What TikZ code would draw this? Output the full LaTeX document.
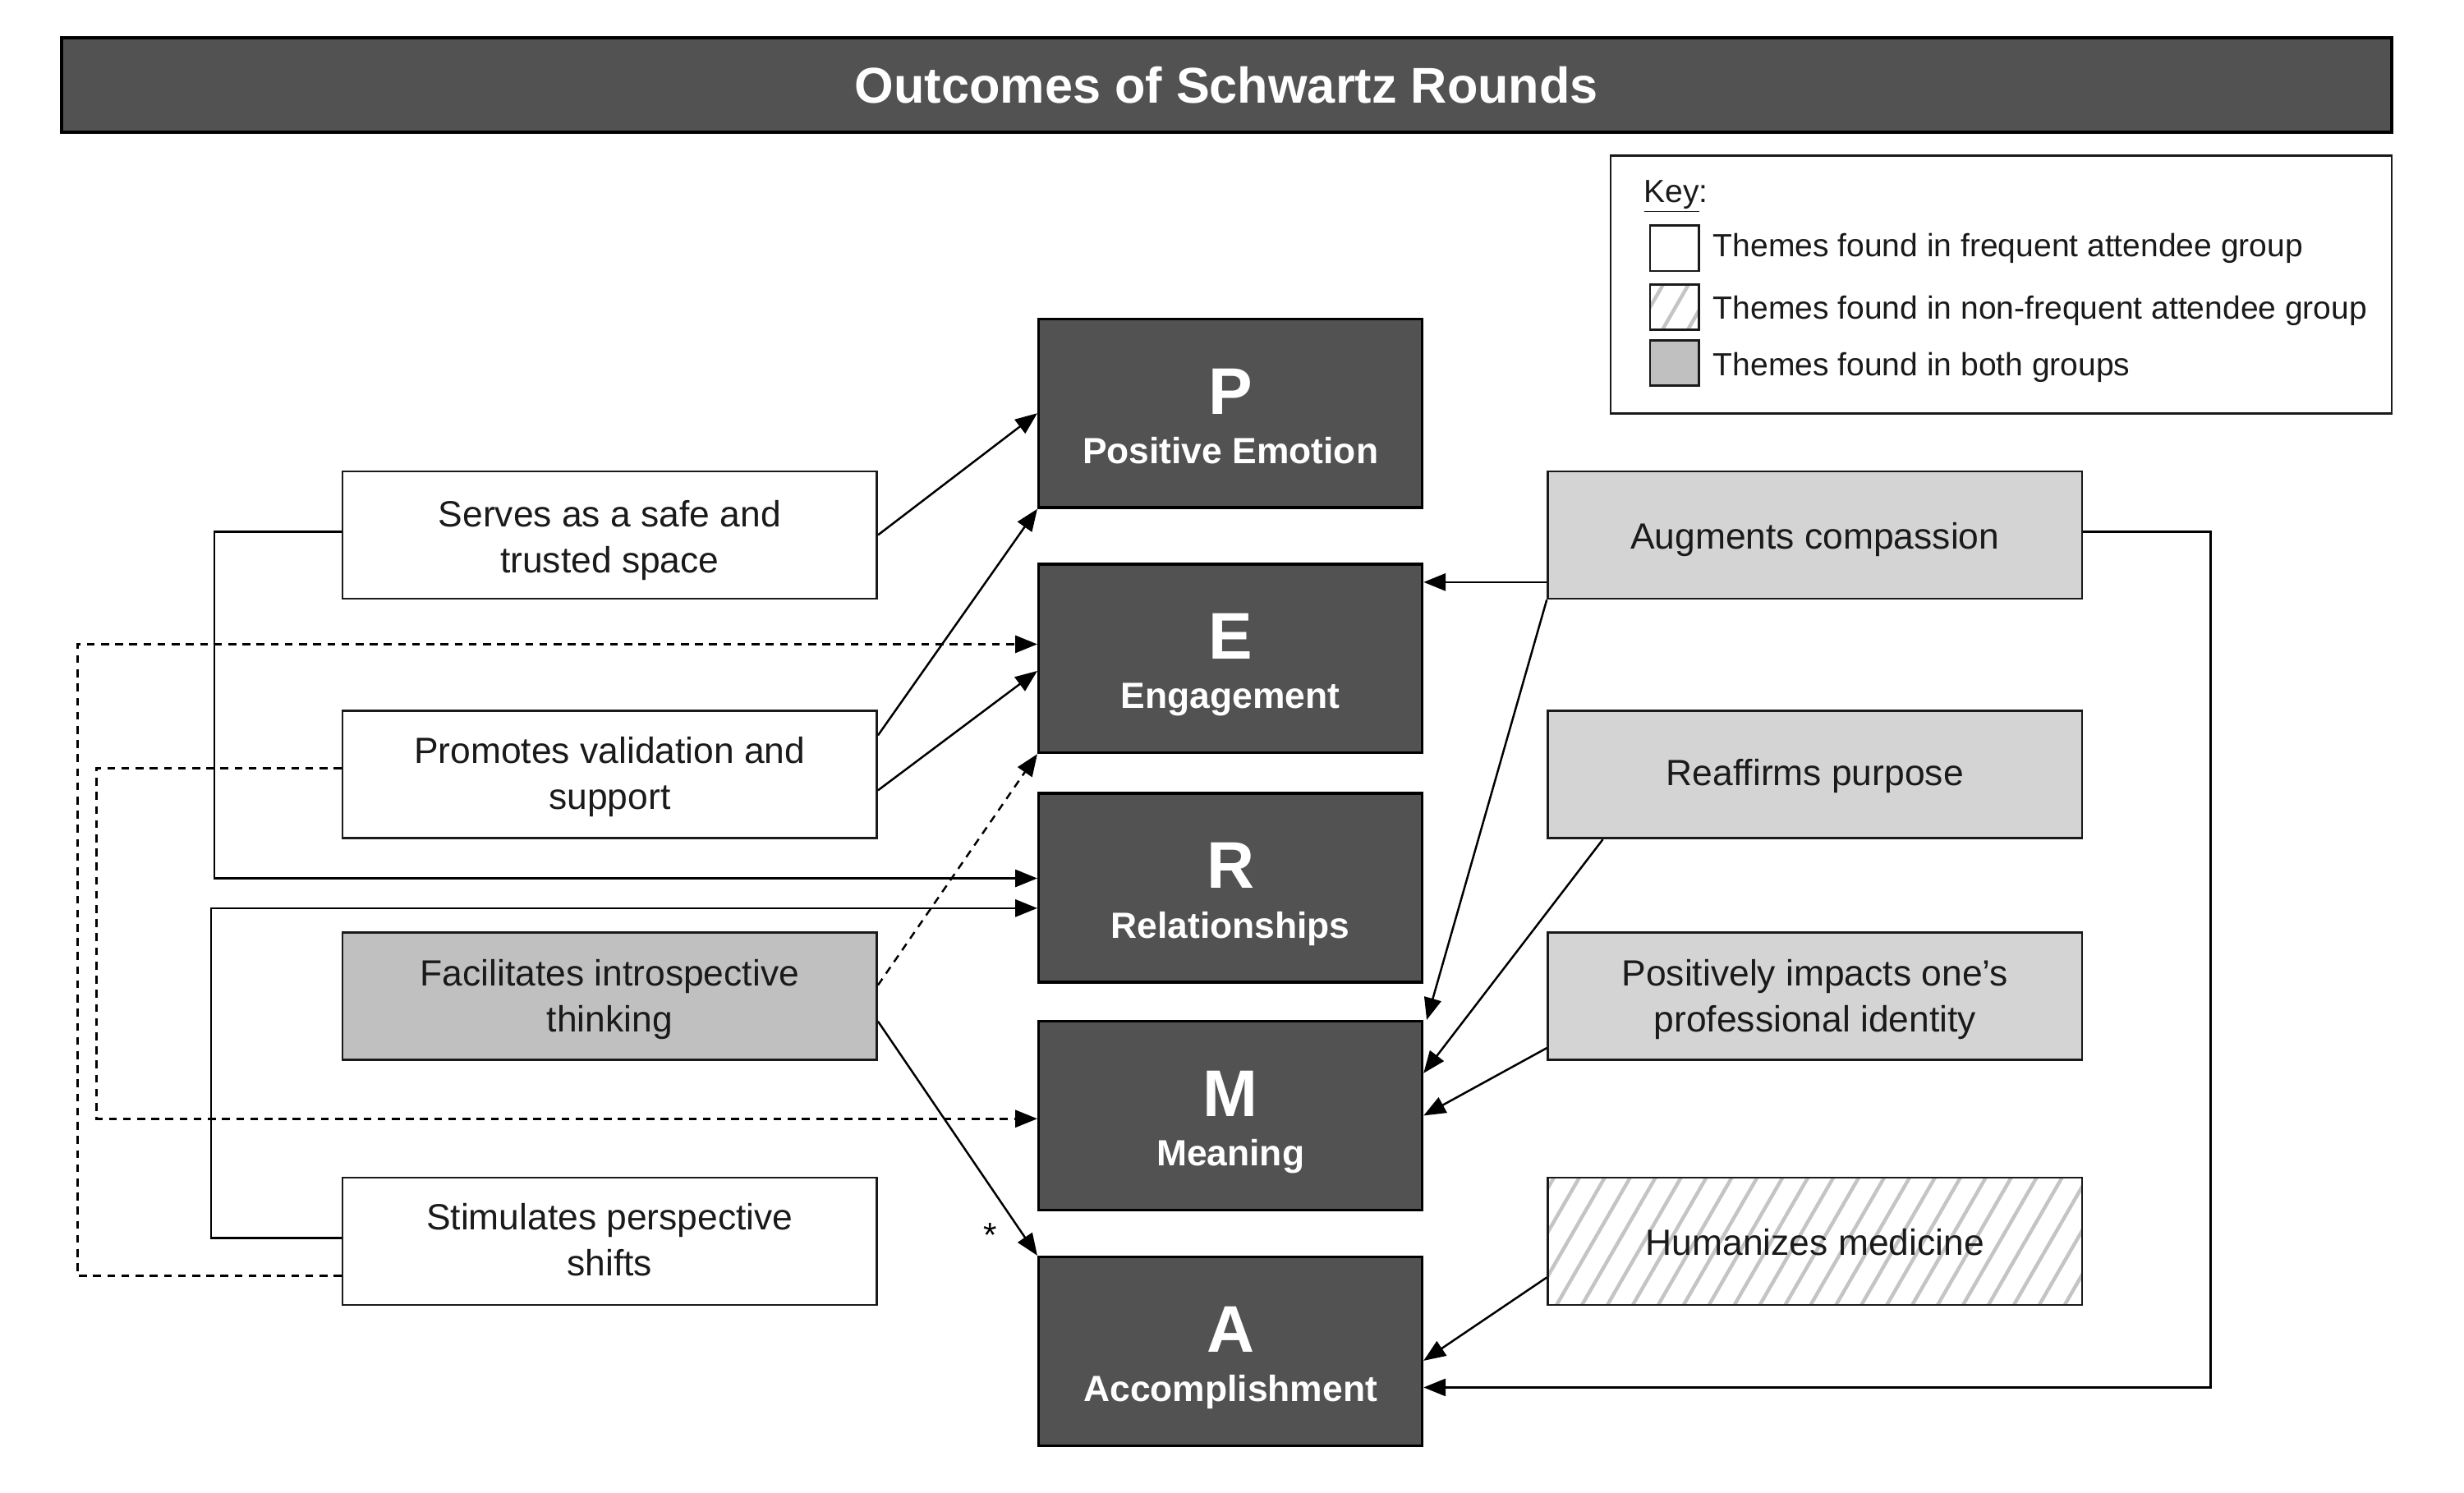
\documentclass[tikz,border=0pt]{standalone}
\usepackage{fontspec}
\setmainfont{Liberation Sans}
\usetikzlibrary{arrows.meta,patterns.meta,calc}
\definecolor{darkbox}{HTML}{525252}
\definecolor{midgray}{HTML}{C0C0C0}
\definecolor{lightgray2}{HTML}{D4D4D4}
\definecolor{hatchc}{HTML}{C4C4C4}
\definecolor{inkc}{HTML}{1A1A1A}
\begin{document}
\begin{tikzpicture}[x=1pt,y=-1pt,
  lbl/.style={draw=inkc, line width=1.4pt, minimum width=340pt, minimum height=81pt, inner sep=0pt},
  btext/.style={inner sep=0pt, align=center, text=inkc, font=\fontsize{23.2}{29}\selectfont},
  wbox/.style={lbl, fill=white},
  gbox/.style={lbl, fill=midgray},
  lgbox/.style={lbl, fill=lightgray2},
  hbox/.style={lbl, pattern={Lines[angle=60,distance=14pt,line width=2.3pt]}, pattern color=hatchc},
  perma/.style={draw=black, line width=1.8pt, fill=darkbox, minimum width=244pt, minimum height=120pt, inner sep=0pt},
  letsty/.style={anchor=base, text=white, font=\fontsize{42}{42}\selectfont\bfseries, inner sep=0pt},
  labsty/.style={anchor=base, text=white, font=\fontsize{23.2}{23}\selectfont\bfseries, inner sep=0pt},
  swatch/.style={draw=inkc, line width=1.4pt, minimum width=31pt, minimum height=29pt, inner sep=0pt},
  keytext/.style={anchor=west, inner sep=0pt, text=inkc, font=\fontsize{20.4}{24}\selectfont},
  arr/.style={draw=black, line width=1.3pt, -{Triangle[length=14pt,width=11pt]}},
  dsh/.style={arr, dash pattern=on 5pt off 4pt},
]
\useasboundingbox[fill=white] (0,0) rectangle (1568,950.2);

% title
\node[draw=black, line width=2pt, fill=darkbox, minimum width=1483pt, minimum height=60pt, inner sep=0pt,
      text=white, font=\fontsize{32}{32}\selectfont\bfseries] (title) at (780.5,54) {Outcomes of Schwartz Rounds};

% key
\node[draw=inkc, line width=1.4pt, fill=white, minimum width=497pt, minimum height=164pt, inner sep=0pt] (key) at (1273.5,181) {};
\node[keytext] (keyhead) at (1046,125) {\underline{Key}:};
\node[swatch, fill=white] (sw1) at (1065.5,158) {};
\node[swatch, pattern={Lines[angle=60,distance=14pt,line width=2.3pt]}, pattern color=hatchc] (sw2) at (1065.5,195.5) {};
\node[swatch, fill=midgray] (sw3) at (1065.5,231) {};
\node[keytext] (k1) at (1090,158) {Themes found in frequent attendee group};
\node[keytext] (k2) at (1090,198) {Themes found in non-frequent attendee group};
\node[keytext] (k3) at (1090,234) {Themes found in both groups};

% PERMA boxes
\node[perma] (P) at (783,263) {};
\node[perma] (E) at (783,419) {};
\node[perma] (R) at (783,565) {};
\node[perma] (M) at (783,710) {};
\node[perma] (A) at (783,860) {};
\foreach \b/\l/\t in {P/P/Positive Emotion, E/E/Engagement, R/R/Relationships, M/M/Meaning, A/A/Accomplishment}{
  \node[letsty] (\b let) at ($(\b.center)+(0,0.5)$) {\l};
  \node[labsty] (\b lab) at ($(\b.center)+(0,32)$) {\t};
}

% left boxes
\node[wbox] (ser) at (388,340.5) {};
\node[wbox] (pro) at (388,493) {};
\node[gbox] (fac) at (388,634) {};
\node[wbox] (sti) at (388,790) {};
\node[btext] (sert) at ($(ser.center)+(0,3.5)$) {Serves as a safe and\\trusted space};
\node[btext] (prot) at ($(pro.center)+(0,1.5)$) {Promotes validation and\\support};
\node[btext] (fact) at ($(fac.center)+(0,2)$) {Facilitates introspective\\thinking};
\node[btext] (stit) at ($(sti.center)+(0,-1)$) {Stimulates perspective\\shifts};

% right boxes
\node[lgbox] (aug) at (1155,340.5) {};
\node[lgbox] (rea) at (1155,493) {};
\node[lgbox] (pos) at (1155,634) {};
\node[hbox] (hum) at (1155,790) {};
\node[btext] (augt) at ($(aug.center)+(0,3)$) {Augments compassion};
\node[btext] (reat) at ($(rea.center)+(0,1)$) {Reaffirms purpose};
\node[btext] (post) at ($(pos.center)+(0,2)$) {Positively impacts one's\\professional identity};
\node[btext] (humt) at ($(hum.center)+(0,0.5)$) {Humanizes medicine};

% star label
\node[inner sep=0pt, font=\fontsize{22}{22}\selectfont] (star) at (630,786) {*};

% left connectors
\draw[arr] (ser.east) -- (P.west);
\draw[arr] ([yshift=25pt]pro.east) -- (P.south west);
\draw[arr] ([yshift=-10pt]pro.east) -- ([yshift=-8pt]E.west);
\draw[dsh] ([yshift=-22pt]sti.west) -- ++(-168,0) |- ([yshift=9pt]E.west);
\draw[dsh] ([yshift=4pt]pro.west) -- ++(-156,0) |- ([yshift=-2pt]M.west);
\draw[arr] ([yshift=2pt]ser.west) -- ++(-81,0) |- ([yshift=6pt]R.west);
\draw[arr] ([yshift=2pt]sti.west) -- ++(-83,0) |- ([yshift=-13pt]R.west);
\draw[dsh] ([yshift=7pt]fac.east) -- (E.south west);
\draw[arr] ([yshift=-16pt]fac.east) -- (A.north west);

% right connectors
\draw[arr] ([yshift=-30pt]aug.west) -- ([yshift=-30pt]aug.west -| E.east);
\draw[arr] (aug.south west) -- ([xshift=2pt]M.north east);
\draw[arr] ([xshift=-135pt]rea.south) -- ([yshift=27pt]M.east);
\draw[arr] ([yshift=-33pt]pos.west) -- (M.east);
\draw[arr] ([yshift=-23pt]hum.west) -- ([yshift=-6pt]A.east);
\draw[arr] ([yshift=2pt]aug.east) -- ++(81,0) |- ([yshift=-23pt]A.east);
\end{tikzpicture}
\end{document}
